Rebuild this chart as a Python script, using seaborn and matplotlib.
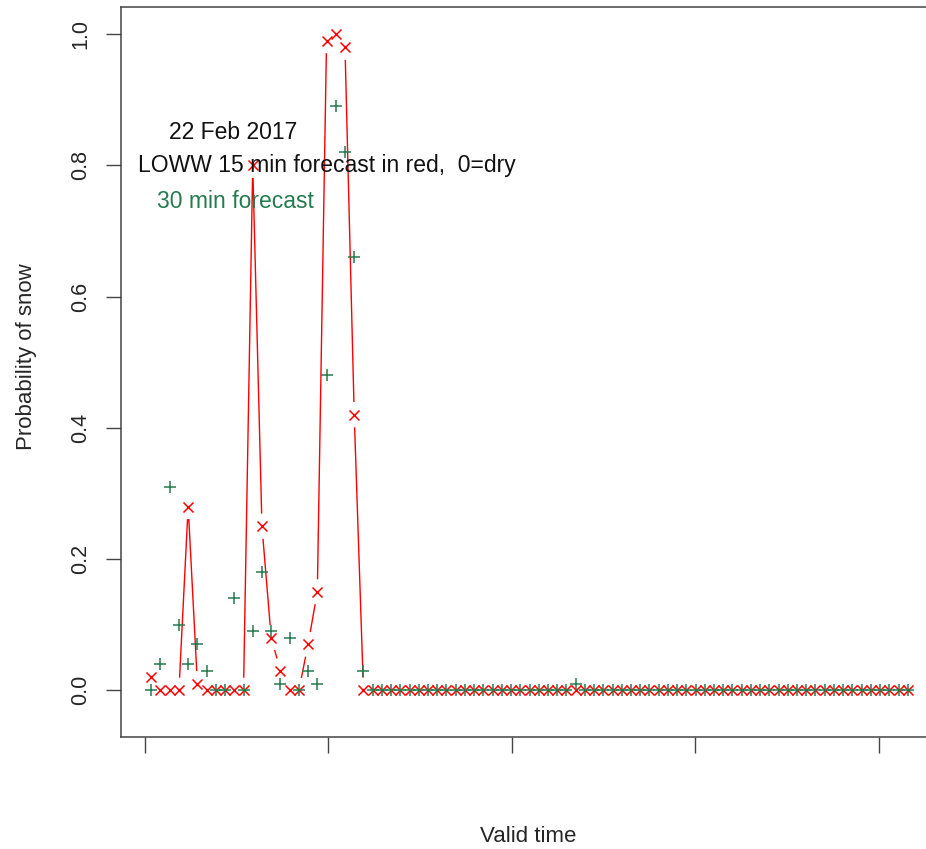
import numpy as np
import pandas as pd
import matplotlib
matplotlib.use("Agg")
import matplotlib.pyplot as plt
import seaborn as sns

# ---- data ----
n_points = 83
step_index = list(range(n_points))  # 15-minute steps

prob_15min = [0.02, 0, 0, 0, 0.28, 0.01, 0, 0, 0, 0,
              0, 0.80, 0.25, 0.08, 0.03, 0, 0, 0.07, 0.15, 0.99,
              1.00, 0.98, 0.42, 0] + [0] * 59

prob_30min = [0, 0.04, 0.31, 0.10, 0.04, 0.07, 0.03, 0, 0, 0.14,
              0, 0.09, 0.18, 0.09, 0.01, 0.08, 0, 0.03, 0.01, 0.48,
              0.89, 0.82, 0.66, 0.03] + [0] * 22 + [0.01] + [0] * 36

x_tick_positions = [-0.65, 19.18, 39.11, 58.94, 78.87]
y_ticks = [0.0, 0.2, 0.4, 0.6, 0.8, 1.0]
y_tick_labels = ["0.0", "0.2", "0.4", "0.6", "0.8", "1.0"]

title_date = "22 Feb 2017"
title_main = "LOWW 15 min forecast in red,  0=dry"
title_green = "30 min forecast"
x_label = "Valid time"
y_label = "Probability of snow"

df = pd.DataFrame({"step": step_index, "p15": prob_15min, "p30": prob_30min})

# ---- style ----
sns.set_style("white")
plt.rcParams["font.family"] = ["Liberation Sans", "DejaVu Sans"]

RED = "#FF0000"
GREEN = "#267B4E"
AXC = "#444444"

fig = plt.figure(figsize=(9.26, 8.49), dpi=100)
W, H = 926, 849
left_px, right_px, top_px, bottom_px = 121, 938, 7, 737
ax = fig.add_axes([left_px / W, (H - bottom_px) / H,
                   (right_px - left_px) / W, (bottom_px - top_px) / H])

# red line (type "b": lines with gaps around the points)
sns.lineplot(data=df, x="step", y="p15", color=RED, lw=1.0, ax=ax,
             zorder=1, estimator=None, sort=False)
sns.scatterplot(data=df, x="step", y="p15", marker="o", s=330,
                color="white", edgecolor="none", linewidth=0, ax=ax, zorder=2)
sns.scatterplot(data=df, x="step", y="p15", marker="x", s=52,
                color=RED, linewidth=1.1, ax=ax, zorder=3)
sns.scatterplot(data=df, x="step", y="p30", marker="+", s=72,
                color=GREEN, linewidth=1.1, ax=ax, zorder=4)

ax.set_xlim(-3.28, 85.28)
ax.set_ylim(-0.0712, 1.0412)

ax.set_xticks(x_tick_positions)
ax.set_xticklabels([""] * len(x_tick_positions))
ax.set_yticks(y_ticks)
ax.set_yticklabels(y_tick_labels)

ax.tick_params(axis="x", length=11.5, width=1.0, color=AXC, direction="out",
               bottom=True)
ax.tick_params(axis="y", length=10.8, width=1.0, color=AXC, direction="out",
               left=True, labelsize=15.5, pad=10.5, labelrotation=90)
for lab in ax.get_yticklabels():
    lab.set_va("center")

for side in ["left", "bottom", "top", "right"]:
    ax.spines[side].set_color(AXC)
    ax.spines[side].set_linewidth(1.1)
    ax.spines[side].set_visible(True)

ax.set_xlabel("")
ax.set_ylabel("")
fig.text(528 / W, 1 - 836 / H, x_label, ha="center", va="center", fontsize=16)
fig.text(27 / W, 1 - 357 / H, y_label, ha="center", va="center",
         rotation=90, fontsize=16)

ax.text(8.88, 0.85, title_date, ha="center", va="center", fontsize=16.5,
        color="#111111", zorder=10)
ax.text(19.07, 0.80, title_main, ha="center", va="center", fontsize=16.5,
        color="#111111", zorder=10)
ax.text(9.1, 0.745, title_green, ha="center", va="center", fontsize=16.5,
        color=GREEN, zorder=10)

fig.savefig("out.png", dpi=100)
